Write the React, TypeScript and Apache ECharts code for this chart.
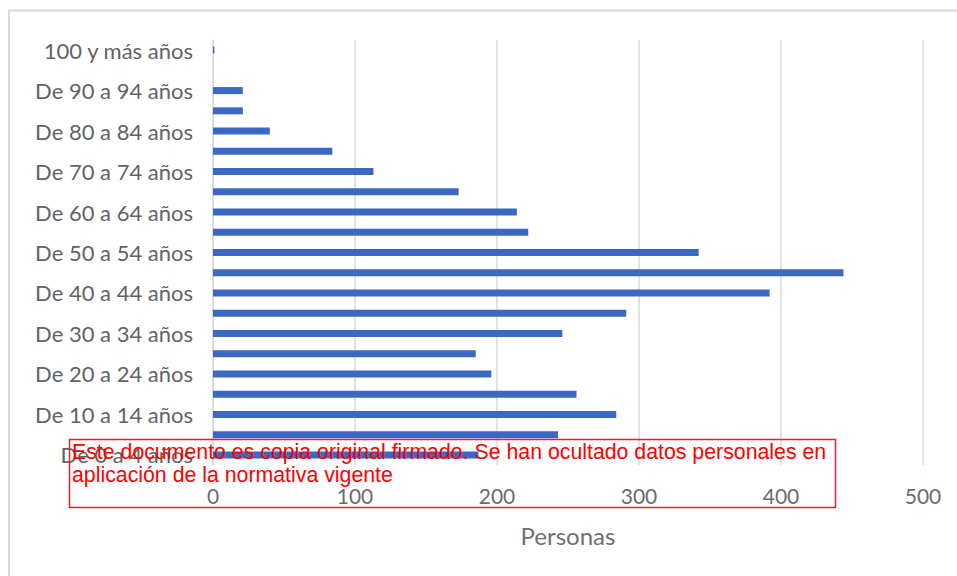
import React, { useEffect, useRef } from "react";
import * as echarts from "echarts";

const categories = [
  "De 0 a 4 años",
  "De 5 a 9 años",
  "De 10 a 14 años",
  "De 15 a 19 años",
  "De 20 a 24 años",
  "De 25 a 29 años",
  "De 30 a 34 años",
  "De 35 a 39 años",
  "De 40 a 44 años",
  "De 45 a 49 años",
  "De 50 a 54 años",
  "De 55 a 59 años",
  "De 60 a 64 años",
  "De 65 a 69 años",
  "De 70 a 74 años",
  "De 75 a 79 años",
  "De 80 a 84 años",
  "De 85 a 89 años",
  "De 90 a 94 años",
  "De 95 a 99 años",
  "100 y más años",
];

const personas = [187, 243, 284, 256, 196, 185, 246, 291, 392, 444, 342, 222, 214, 173, 113, 84, 40, 21, 21, 0, 1];

const xTicks = { min: 0, max: 500, interval: 100 };
const axisTitle = "Personas";
const watermarkLines = [
  "Este documento es copia original firmado. Se han ocultado datos personales en",
  "aplicación de la normativa vigente",
];

export default function App() {
  const ref = useRef<HTMLDivElement>(null);
  useEffect(() => {
    if (!ref.current) return;
    const chart = echarts.init(ref.current, null, { renderer: "svg" });
    chart.setOption({
      animation: false,
      backgroundColor: "#ffffff",
      grid: { left: 213, right: 34, top: 40, bottom: 111, containLabel: false },
      xAxis: {
        type: "value",
        min: xTicks.min,
        max: xTicks.max,
        interval: xTicks.interval,
        name: axisTitle,
        nameLocation: "middle",
        nameGap: 58,
        nameTextStyle: { fontFamily: "Lato", fontSize: 24, color: "#707070" },
        axisLine: { show: false },
        axisTick: { show: false },
        axisLabel: { fontFamily: "Lato", fontSize: 21, color: "#6b6b6b", margin: 20 },
        splitLine: { show: true, lineStyle: { color: "#d9d9d9", width: 1.5 } },
      },
      yAxis: {
        type: "category",
        data: categories,
        axisLine: { show: true, lineStyle: { color: "#d9d9d9", width: 1.5 } },
        axisTick: { show: false },
        axisLabel: {
          interval: 1,
          fontFamily: "Lato",
          fontSize: 22,
          color: "#636363",
          margin: 20,
        },
      },
      series: [
        {
          type: "bar",
          data: personas,
          barWidth: 7,
          itemStyle: { color: "#3b68c2" },
        },
      ],
      graphic: [
        {
          type: "rect",
          silent: true,
          shape: { x: 9, y: 10.5, width: 1000, height: 700 },
          style: { fill: "none", stroke: "#d9d9d9", lineWidth: 2 },
        },
        {
          type: "rect",
          silent: true,
          z: 100,
          shape: { x: 69.5, y: 439.5, width: 766, height: 68 },
          style: { fill: "none", stroke: "#e8212f", lineWidth: 1.5 },
        },
        {
          type: "text",
          z: 101,
          x: 72,
          y: 440,
          style: {
            text: watermarkLines.join("\n"),
            fontFamily: "Liberation Sans",
            fontSize: 21.3,
            lineHeight: 23,
            fill: "#ff0000",
          },
        },
      ],
    });
    return () => chart.dispose();
  }, []);
  return (
    <div
      ref={ref}
      style={{ position: "fixed", left: 0, top: 0, width: 957, height: 576 }}
    />
  );
}
